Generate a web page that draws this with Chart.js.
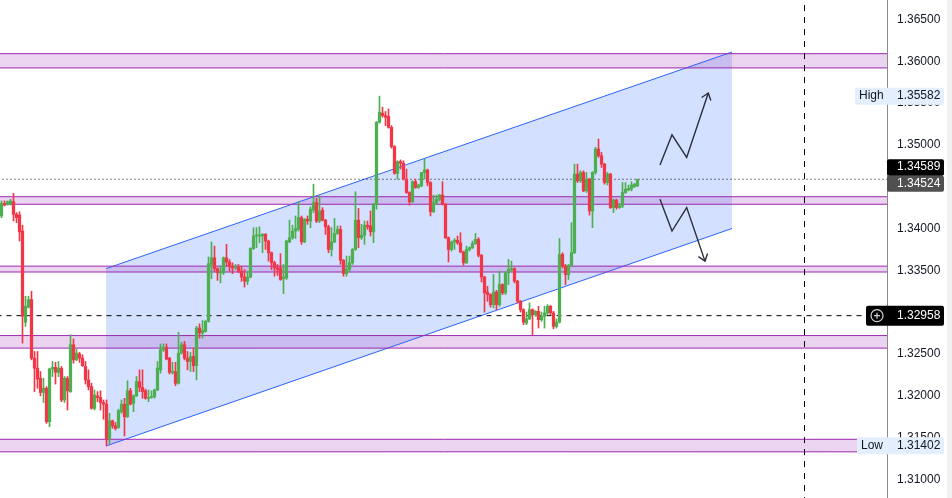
<!DOCTYPE html>
<html>
<head>
<meta charset="utf-8">
<script src="https://cdn.jsdelivr.net/npm/chart.js@4.4.1/dist/chart.umd.min.js"></script>
<style>
  html, body { margin: 0; padding: 0; background: #fff; }
  #wrap { width: 952px; height: 498px; }
</style>
</head>
<body>
<div id="wrap"><canvas id="chart" width="952" height="498"></canvas></div>
<script>
/* ==========================================================
   Price chart – candles, zones, channel & price tags
========================================================== */

/* ---------- candles (oldest first) ---------- */
const opens = [
  1.3415,1.3430,1.3429,1.3430,1.3432,1.3417,1.3416,1.3397,1.3288,1.3306,
  1.3315,1.3245,1.3233,1.3221,1.3204,1.3209,1.3169,1.3232,1.3234,1.3228,
  1.3233,1.3195,1.3221,1.3205,1.3261,1.3243,1.3250,1.3245,1.3235,1.3219,
  1.3211,1.3185,1.3200,1.3198,1.3192,1.3190,1.3149,1.3170,1.3164,1.3162,
  1.3181,1.3190,1.3175,1.3206,1.3191,1.3200,1.3217,1.3210,1.3206,1.3197,
  1.3198,1.3199,1.3207,1.3231,1.3255,1.3258,1.3245,1.3228,1.3229,1.3215,
  1.3251,1.3261,1.3245,1.3241,1.3247,1.3236,1.3281,1.3275,1.3277,1.3289,
  1.3357,1.3365,1.3352,1.3347,1.3347,1.3365,1.3360,1.3355,1.3353,1.3354,
  1.3349,1.3342,1.3337,1.3342,1.3376,1.3391,1.3391,1.3391,1.3393,1.3385,
  1.3371,1.3359,1.3353,1.3353,1.3340,1.3341,1.3384,1.3389,1.3397,1.3399,
  1.3413,1.3384,1.3411,1.3409,1.3422,1.3431,1.3409,1.3422,1.3410,1.3402,
  1.3375,1.3384,1.3394,1.3399,1.3362,1.3346,1.3351,1.3359,1.3375,1.3410,
  1.3389,1.3392,1.3404,1.3403,1.3396,1.3429,1.3527,1.3538,1.3535,1.3534,
  1.3521,1.3498,1.3466,1.3480,1.3478,1.3459,1.3443,1.3432,1.3456,1.3449,
  1.3451,1.3467,1.3470,1.3455,1.3420,1.3431,1.3435,1.3440,1.3429,1.3389,
  1.3375,1.3384,1.3386,1.3383,1.3372,1.3359,1.3375,1.3377,1.3382,1.3387,
  1.3368,1.3342,1.3324,1.3321,1.3309,1.3324,1.3309,1.3333,1.3323,1.3347,
  1.3351,1.3352,1.3337,1.3313,1.3303,1.3287,1.3292,1.3303,1.3297,1.3301,
  1.3291,1.3295,1.3299,1.3307,1.3299,1.3283,1.3288,1.3369,1.3355,1.3345,
  1.3356,1.3371,1.3465,1.3457,1.3467,1.3445,1.3459,1.3421,1.3467,1.3495,
  1.3487,1.3477,1.3455,1.3465,1.3425,1.3434,1.3425,1.3427,1.3443,1.3446,
  1.3447,1.3450,1.3451
];
const highs = [
  1.3433,1.3433,1.3433,1.3435,1.3442,1.3419,1.3420,1.3404,1.3319,1.3319,
  1.3325,1.3253,1.3253,1.3229,1.3221,1.3211,1.3233,1.3241,1.3240,1.3241,
  1.3235,1.3223,1.3223,1.3273,1.3268,1.3256,1.3252,1.3249,1.3241,1.3231,
  1.3215,1.3207,1.3205,1.3206,1.3195,1.3195,1.3179,1.3171,1.3168,1.3184,
  1.3195,1.3197,1.3218,1.3209,1.3201,1.3223,1.3231,1.3231,1.3208,1.3207,
  1.3206,1.3208,1.3241,1.3262,1.3262,1.3262,1.3246,1.3240,1.3240,1.3276,
  1.3264,1.3265,1.3253,1.3252,1.3257,1.3283,1.3286,1.3290,1.3290,1.3366,
  1.3384,1.3379,1.3353,1.3355,1.3366,1.3381,1.3363,1.3359,1.3357,1.3357,
  1.3355,1.3351,1.3349,1.3377,1.3401,1.3401,1.3402,1.3394,1.3394,1.3386,
  1.3372,1.3361,1.3357,1.3370,1.3357,1.3386,1.3410,1.3404,1.3415,1.3432,
  1.3415,1.3412,1.3415,1.3426,1.3453,1.3436,1.3439,1.3425,1.3411,1.3404,
  1.3401,1.3412,1.3403,1.3403,1.3363,1.3367,1.3367,1.3376,1.3444,1.3424,
  1.3405,1.3409,1.3409,1.3421,1.3430,1.3528,1.35582,1.3545,1.3540,1.3543,
  1.3523,1.3499,1.3481,1.3482,1.3481,1.3471,1.3444,1.3457,1.3459,1.3453,
  1.3467,1.3483,1.3471,1.3456,1.3440,1.3440,1.3441,1.3456,1.3430,1.3390,
  1.3385,1.3388,1.3391,1.3395,1.3373,1.3379,1.3378,1.3385,1.3394,1.3389,
  1.3369,1.3343,1.3331,1.3322,1.3345,1.3326,1.3349,1.3334,1.3348,1.3363,
  1.3361,1.3353,1.3338,1.3314,1.3304,1.3300,1.3311,1.3304,1.3302,1.3307,
  1.3300,1.3307,1.3309,1.3308,1.3301,1.3292,1.3388,1.3371,1.3357,1.3357,
  1.3407,1.3477,1.3477,1.3469,1.3469,1.3467,1.3460,1.3468,1.3497,1.3507,
  1.3491,1.3478,1.3467,1.3466,1.3435,1.3435,1.3430,1.3455,1.3455,1.3452,
  1.3456,1.3454,1.34589
];
const lows = [
  1.3413,1.3427,1.3428,1.3428,1.3409,1.3407,1.3385,1.3263,1.3283,1.3305,
  1.3243,1.3205,1.3209,1.3200,1.3192,1.3167,1.3163,1.3223,1.3214,1.3223,
  1.3193,1.3192,1.3183,1.3204,1.3239,1.3242,1.3240,1.3235,1.3214,1.3207,
  1.3184,1.3183,1.3193,1.3183,1.3172,1.31402,1.3143,1.3161,1.3159,1.3161,
  1.3179,1.3152,1.3174,1.3189,1.3181,1.3199,1.3205,1.3197,1.3196,1.3193,
  1.3197,1.3197,1.3206,1.3227,1.3253,1.3243,1.3226,1.3226,1.3212,1.3214,
  1.3250,1.3243,1.3231,1.3229,1.3229,1.3219,1.3269,1.3269,1.3276,1.3288,
  1.3340,1.3349,1.3338,1.3335,1.3345,1.3355,1.3349,1.3346,1.3351,1.3347,
  1.3337,1.3330,1.3333,1.3341,1.3375,1.3377,1.3383,1.3371,1.3375,1.3361,
  1.3351,1.3343,1.3344,1.3338,1.3322,1.3339,1.3383,1.3387,1.3388,1.3397,
  1.3381,1.3383,1.3405,1.3401,1.3419,1.3407,1.3407,1.3409,1.3393,1.3371,
  1.3367,1.3383,1.3393,1.3357,1.3343,1.3343,1.3348,1.3357,1.3374,1.3377,
  1.3387,1.3381,1.3399,1.3391,1.3383,1.3423,1.3526,1.3533,1.3523,1.3520,
  1.3496,1.3465,1.3459,1.3471,1.3458,1.3442,1.3428,1.3431,1.3448,1.3448,
  1.3450,1.3459,1.3451,1.3415,1.3419,1.3429,1.3433,1.3428,1.3388,1.3360,
  1.3373,1.3375,1.3381,1.3371,1.3356,1.3358,1.3373,1.3376,1.3381,1.3366,
  1.3336,1.3300,1.3313,1.3306,1.3305,1.3303,1.3307,1.3321,1.3321,1.3333,
  1.3349,1.3335,1.3311,1.3300,1.3285,1.3285,1.3291,1.3273,1.3295,1.3281,
  1.3289,1.3281,1.3297,1.3297,1.3280,1.3281,1.3287,1.3353,1.3333,1.3339,
  1.3355,1.3370,1.3455,1.3455,1.3444,1.3443,1.3416,1.3401,1.3465,1.3485,
  1.3473,1.3453,1.3452,1.3424,1.3419,1.3423,1.3424,1.3425,1.3442,1.3445,
  1.3445,1.3449,1.3450
];
const closes = [
  1.3430,1.3428,1.3432,1.3433,1.3417,1.3413,1.3396,1.3295,1.3307,1.3315,
  1.3245,1.3233,1.3220,1.3204,1.3209,1.3169,1.3232,1.3234,1.3228,1.3233,
  1.3195,1.3221,1.3206,1.3261,1.3243,1.3251,1.3245,1.3236,1.3219,1.3211,
  1.3185,1.3201,1.3198,1.3192,1.3190,1.3148,1.3170,1.3164,1.3161,1.3182,
  1.3190,1.3175,1.3206,1.3190,1.3200,1.3217,1.3210,1.3205,1.3197,1.3198,
  1.3199,1.3207,1.3233,1.3255,1.3258,1.3244,1.3228,1.3229,1.3215,1.3251,
  1.3261,1.3245,1.3241,1.3247,1.3236,1.3281,1.3275,1.3278,1.3289,1.3358,
  1.3365,1.3352,1.3347,1.3348,1.3365,1.3360,1.3355,1.3353,1.3354,1.3349,
  1.3342,1.3337,1.3342,1.3376,1.3391,1.3392,1.3392,1.3393,1.3385,1.3371,
  1.3359,1.3353,1.3351,1.3339,1.3342,1.3385,1.3389,1.3397,1.3400,1.3413,
  1.3384,1.3411,1.3409,1.3423,1.3431,1.3409,1.3421,1.3410,1.3402,1.3375,
  1.3384,1.3394,1.3399,1.3362,1.3346,1.3351,1.3359,1.3375,1.3410,1.3389,
  1.3392,1.3404,1.3402,1.3396,1.3429,1.3527,1.3539,1.3535,1.3533,1.3521,
  1.3498,1.3466,1.3480,1.3478,1.3459,1.3443,1.3432,1.3456,1.3449,1.3452,
  1.3467,1.3470,1.3455,1.3420,1.3431,1.3435,1.3440,1.3429,1.3389,1.3375,
  1.3384,1.3386,1.3383,1.3372,1.3359,1.3375,1.3377,1.3382,1.3387,1.3368,
  1.3342,1.3323,1.3321,1.3309,1.3324,1.3309,1.3333,1.3323,1.3347,1.3351,
  1.3352,1.3337,1.3313,1.3303,1.3288,1.3292,1.3303,1.3297,1.3301,1.3291,
  1.3295,1.3299,1.3307,1.3299,1.3283,1.3288,1.3369,1.3355,1.3345,1.3356,
  1.3371,1.3465,1.3457,1.3467,1.3445,1.3459,1.3421,1.3467,1.3495,1.3487,
  1.3477,1.3455,1.3465,1.3425,1.3434,1.3425,1.3427,1.3443,1.3447,1.3448,
  1.3452,1.3453,1.34589
];

/* ---------- price axis ---------- */
const yTicks = [1.310, 1.315, 1.320, 1.325, 1.330, 1.335, 1.340,
                1.345, 1.350, 1.355, 1.360, 1.365];
const yMin = 1.30778, yMax = 1.36732;
const xMin = -0.5,   xMax = 295.17;   // bar index range shown

/* ---------- drawings ---------- */
const zoneTops    = [1.3609, 1.3438, 1.3355, 1.3272, 1.3148];
const zoneBottoms = [1.3592, 1.3429, 1.3348, 1.3257, 1.3133];
const channelX     = [34.83, 243.5];
const channelUpper = [1.3352, 1.3611];
const channelLower = [1.3140, 1.3400];
const upArrowX   = [219.5, 223.5, 228.4, 235.6];
const upArrowY   = [1.3476, 1.3512, 1.3485, 1.3562];
const downArrowX = [219.5, 223.5, 228.4, 234.5];
const downArrowY = [1.3435, 1.3397, 1.3425, 1.3361];
const crossBarX  = 267.67;

/* ---------- price tags ---------- */
const highPrice  = 1.35582;
const lowPrice   = 1.31402;
const lastPrice  = 1.34589;
const prevPrice  = 1.34524;
const crossPrice = 1.32958;

/* ---------- colours ---------- */
const COLORS = {
  up      : '#4caf50',
  down    : '#f23645',
  zoneFill: 'rgba(156,39,176,0.2)',
  zoneLine: '#9c27b0',
  chanFill: 'rgba(41,98,255,0.2)',
  chanLine: '#2962ff',
  arrow   : '#2a2e39',
  text    : '#131722',
  axis    : '#8a8a8a',
  tagBlue : '#e3effd'
};
const FONT = "'Liberation Sans', Arial, sans-serif";

/* ---------- tiny helpers ---------- */
const flat = (v, extra = {}) => ({
  type: 'line', data: [{ x: -5, y: v }, { x: 400, y: v }],
  pointRadius: 0, borderWidth: 1, fill: false, ...extra
});
const path = (xs, ys, extra = {}) => ({
  type: 'line', data: xs.map((x, i) => ({ x, y: ys[i] })),
  pointRadius: 0, borderWidth: 1, fill: false, tension: 0, ...extra
});
const candleColor = c => closes[c.dataIndex] >= opens[c.dataIndex] ? COLORS.up : COLORS.down;

/* ---------- datasets ---------- */
const datasets = [];

// channel (drawn first)
datasets.push(path(channelX, channelUpper,
  { borderColor: COLORS.chanLine, fill: '+1', backgroundColor: COLORS.chanFill, order: 40 }));
datasets.push(path(channelX, channelLower,
  { borderColor: COLORS.chanLine, order: 40 }));

// horizontal zones
zoneTops.forEach((t, i) => {
  datasets.push(flat(t, { borderColor: COLORS.zoneLine, fill: '+1',
                          backgroundColor: COLORS.zoneFill, order: 30 }));
  datasets.push(flat(zoneBottoms[i], { borderColor: COLORS.zoneLine, order: 30 }));
});

// price lines
datasets.push(flat(crossPrice, { borderColor: '#000', borderDash: [5, 5], order: 20 }));
datasets.push(flat(lastPrice,  { borderColor: '#000', borderDash: [1, 3], order: 20 }));
datasets.push(path([crossBarX, crossBarX], [1.30, 1.37],
  { borderColor: '#000', borderDash: [6, 6], order: 20 }));

// scenario arrows
datasets.push(path(upArrowX, upArrowY,     { borderColor: COLORS.arrow, borderWidth: 1.4, order: 20 }));
datasets.push(path(downArrowX, downArrowY, { borderColor: COLORS.arrow, borderWidth: 1.4, order: 20 }));

// wicks + bodies
datasets.push({
  type: 'bar', data: lows.map((l, i) => ({ x: i, y: [l, highs[i]] })),
  backgroundColor: candleColor, barThickness: 1, grouped: false, order: 2
});
datasets.push({
  type: 'bar', data: opens.map((o, i) => ({ x: i, y: [o, closes[i]] })),
  backgroundColor: candleColor, barThickness: 2.6, minBarLength: 1, grouped: false, order: 1
});

/* ---------- overlay: arrowheads, axis tags ---------- */
const overlay = {
  id: 'overlay',
  afterDraw (chart) {
    const { ctx, scales: { x, y } } = chart;
    ctx.save();

    // arrowheads
    [[upArrowX, upArrowY], [downArrowX, downArrowY]].forEach(([xs, ys]) => {
      const n  = xs.length - 1;
      const tx = x.getPixelForValue(xs[n]),     ty = y.getPixelForValue(ys[n]);
      const px = x.getPixelForValue(xs[n - 1]), py = y.getPixelForValue(ys[n - 1]);
      const a  = Math.atan2(ty - py, tx - px);
      ctx.beginPath();
      ctx.moveTo(tx - 8 * Math.cos(a - 0.65), ty - 8 * Math.sin(a - 0.65));
      ctx.lineTo(tx, ty);
      ctx.lineTo(tx - 8 * Math.cos(a + 0.65), ty - 8 * Math.sin(a + 0.65));
      ctx.strokeStyle = COLORS.arrow; ctx.lineWidth = 1.4; ctx.stroke();
    });

    const R = 944;
    const box = (x0, yTop, h, bg) => {
      ctx.fillStyle = bg;
      ctx.beginPath();
      if (ctx.roundRect) ctx.roundRect(x0, yTop, R - x0, h, 2); else ctx.rect(x0, yTop, R - x0, h);
      ctx.fill();
    };
    const txt = (s, tx, ty, col) => {
      ctx.font = `12px ${FONT}`; ctx.fillStyle = col;
      ctx.textAlign = 'left'; ctx.textBaseline = 'middle';
      ctx.fillText(s, tx, ty);
    };

    // high / low
    let yc = y.getPixelForValue(highPrice);
    box(855, yc - 8.5, 17, COLORS.tagBlue);
    txt('High', 859, yc, COLORS.text); txt(highPrice.toFixed(5), 897, yc, COLORS.text);
    yc = y.getPixelForValue(lowPrice);
    box(857, yc - 8.5, 17, COLORS.tagBlue);
    txt('Low', 861, yc, COLORS.text); txt(lowPrice.toFixed(5), 897, yc, COLORS.text);

    // last / previous close
    yc = y.getPixelForValue(prevPrice) - 1;
    box(887, yc - 8, 16, '#505050');
    txt(prevPrice.toFixed(5), 897, yc, '#fff');
    box(887, yc - 24.5, 16.5, '#000');
    txt(lastPrice.toFixed(5), 897, yc - 16.5, '#fff');

    // crosshair price
    yc = y.getPixelForValue(crossPrice);
    box(866, yc - 10, 20, '#000');
    txt(crossPrice.toFixed(5), 897, yc, '#fff');
    ctx.strokeStyle = '#d1d4dc'; ctx.lineWidth = 1.2;
    ctx.beginPath(); ctx.arc(877, yc, 6, 0, Math.PI * 2); ctx.stroke();
    ctx.beginPath();
    ctx.moveTo(874, yc); ctx.lineTo(880, yc);
    ctx.moveTo(877, yc - 3); ctx.lineTo(877, yc + 3);
    ctx.stroke();

    // right frame strip
    ctx.fillStyle = '#f0f0f0';
    ctx.fillRect(947, 0, 5, chart.height);
    ctx.restore();
  }
};

/* ---------- chart ---------- */
new Chart(document.getElementById('chart'), {
  type: 'bar',
  data: { datasets },
  options: {
    responsive: false,
    animation: false,
    events: [],
    layout: { padding: 0 },
    plugins: {
      legend: { display: false },
      tooltip: { enabled: false },
      filler: { drawTime: 'beforeDatasetsDraw', propagate: false }
    },
    scales: {
      x: { type: 'linear', display: false, offset: false, min: xMin, max: xMax,
           grid: { display: false } },
      y: {
        type: 'linear', position: 'right', min: yMin, max: yMax, beginAtZero: false,
        grid: { display: false, drawTicks: false },
        border: { display: true, color: COLORS.axis, width: 1 },
        ticks: { color: COLORS.text, padding: 10, font: { family: FONT, size: 12 },
                 callback: v => v.toFixed(5) },
        afterBuildTicks: s => { s.ticks = yTicks.map(value => ({ value })); },
        afterFit: s => { s.width = 65; s.paddingTop = 0; s.paddingBottom = 0; }
      }
    }
  },
  plugins: [overlay]
});
</script>
</body>
</html>
